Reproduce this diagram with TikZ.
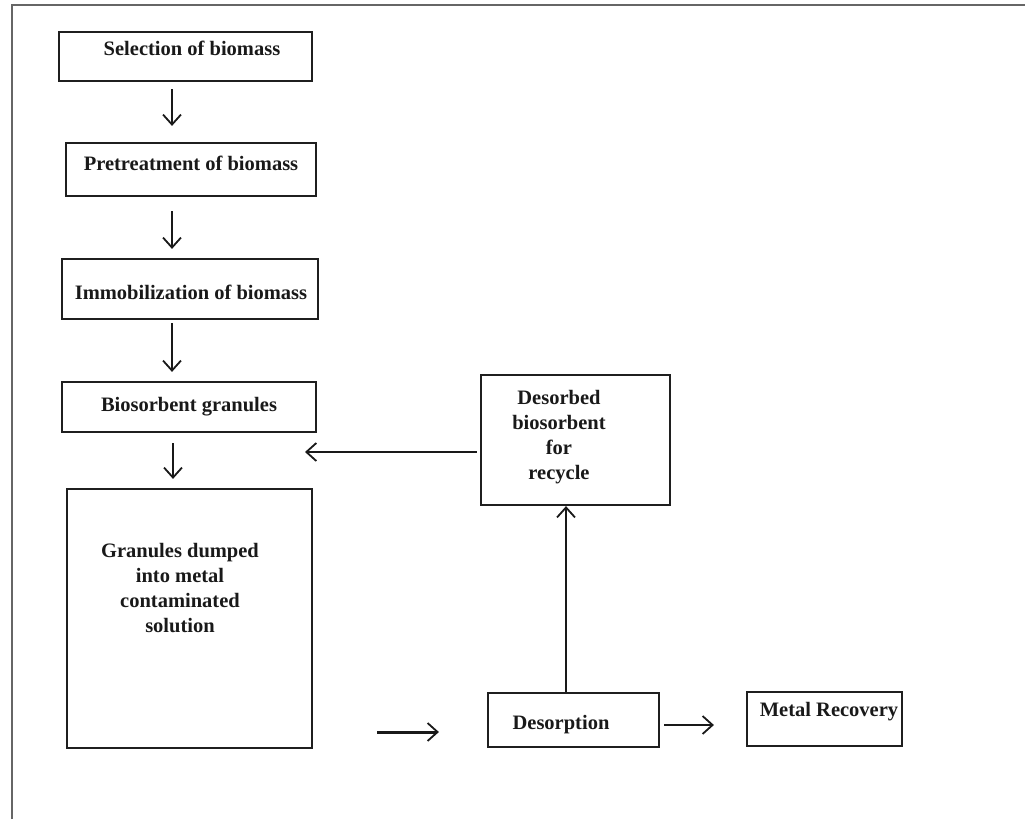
\documentclass[tikz,border=0pt]{standalone}
\usepackage{fontspec}
\setmainfont{Liberation Serif}
\usetikzlibrary{arrows.meta}
\begin{document}
\begin{tikzpicture}[x=1pt,y=-1pt,
  box/.style={draw=black!88, line width=2.2pt, inner sep=0pt},
  lbl/.style={font=\fontsize{20.5}{25}\selectfont\bfseries, align=center, inner sep=0pt, text=black!90},
  arr/.style={draw=black!90, line width=2pt, -{Straight Barb[length=10pt,width=18pt,line width=1.8pt]}},
  frame/.style={draw=black!60, line width=2pt}]
\useasboundingbox (0,0) rectangle (1025,819);
% outer frame (top and left only)
\draw[frame] (12,819) -- (12,5) -- (1025,5);
% boxes
\node[box, minimum width=253pt, minimum height=49pt] (sel) at (185.5,56.5) {};
\node[lbl] (selT) at (192,48) {Selection of biomass};
\node[box, minimum width=250pt, minimum height=53pt] (pre) at (191,169.5) {};
\node[lbl] (preT) at (191,163) {Pretreatment of biomass};
\node[box, minimum width=256pt, minimum height=60pt] (imm) at (190,289) {};
\node[lbl] (immT) at (191,292) {Immobilization of biomass};
\node[box, minimum width=254pt, minimum height=50pt] (bio) at (189,407) {};
\node[lbl] (bioT) at (189,407) {Biosorbent granules};
\node[box, minimum width=245pt, minimum height=259pt] (gran) at (189.5,618.5) {};
\node[lbl] (granT) at (180,588) {Granules dumped\\into metal\\contaminated\\solution};
\node[box, minimum width=189pt, minimum height=130pt] (des) at (575.5,440) {};
\node[lbl] (desT) at (559,437) {Desorbed\\biosorbent\\for\\recycle};
\node[box, minimum width=171pt, minimum height=54pt] (dsp) at (573.5,720) {};
\node[lbl] (dspT) at (561,725) {Desorption};
\node[box, minimum width=155pt, minimum height=54pt] (met) at (824.5,719) {};
\node[lbl] (metT) at (829,712) {Metal Recovery};
\coordinate (recyc) at (305,452);
% connectors
\draw[arr, shorten <=7pt, shorten >=16pt] ([xshift=-13.5pt]sel.south) -- ([xshift=-19pt]pre.north);
\draw[arr, shorten <=14pt, shorten >=9pt] ([xshift=-19pt]pre.south) -- ([xshift=-18pt]imm.north);
\draw[arr, shorten <=3pt, shorten >=9pt] ([xshift=-18pt]imm.south) -- ([xshift=-17pt]bio.north);
\draw[arr, shorten <=10pt, shorten >=9pt] ([xshift=-16pt]bio.south) -- ([xshift=-16.5pt]gran.north);
\draw[arr, shorten <=3pt] ([yshift=-12pt]des.west) -- (recyc);
\draw[arr] ([xshift=-7.5pt]dsp.north) -- ([xshift=-9.5pt]des.south);
\draw[arr, line width=3pt, shorten <=64pt, shorten >=48pt] ([yshift=-113.5pt]gran.east) -- ([yshift=-12pt]dsp.west);
\draw[arr, line width=2.6pt, shorten <=4pt, shorten >=32pt] ([yshift=-5pt]dsp.east) -- ([yshift=-6pt]met.west);
\end{tikzpicture}
\end{document}
